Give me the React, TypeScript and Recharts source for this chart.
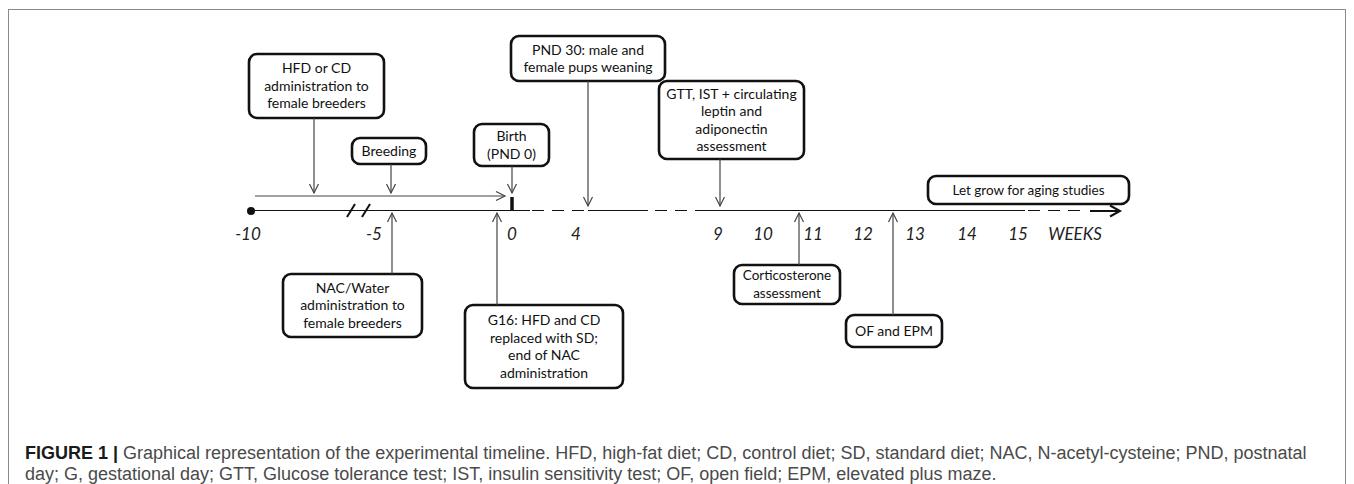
import React from 'react';
import { ComposedChart, Line, XAxis, YAxis, ReferenceArea, ReferenceLine, ReferenceDot } from 'recharts';

// tick labels of the broken time axis and where each one sits along it (axis units)
const weekLabels = ['-10', '-5', '0', '4', '9', '10', '11', '12', '13', '14', '15', 'WEEKS'];
const weekPos = [-5.28, -2.76, 0, 1.28, 4.12, 5.02, 6.02, 7.02, 8.06, 9.1, 10.12, 11.26];

// stretches of the timeline
const solidSpans = [[-5.22, 0.36], [1.52, 2.72], [3.86, 10.26]];
const dashedSpans = [[0.4, 1.44], [2.86, 3.86], [10.32, 11.44]];
const growSpan = [11.56, 12.16]; // open end after week 15
const dietSpan = [-5.14, -0.14]; // HFD / CD feeding up to G16
const timelineStart = -5.22;
const axisBreak = -3.06;
const birthAt = 0;

// events: box text and where their arrow meets the timeline
const eventLines = [
  ['HFD or CD', 'administration to', 'female breeders'],
  ['Breeding'],
  ['Birth', '(PND 0)'],
  ['PND 30: male and', 'female pups weaning'],
  ['GTT, IST + circulating', 'leptin and', 'adiponectin', 'assessment'],
  ['Let grow for aging studies'],
  ['NAC/Water', 'administration to', 'female breeders'],
  ['G16: HFD and CD', 'replaced with SD;', 'end of NAC', 'administration'],
  ['Corticosterone', 'assessment'],
  ['OF and EPM'],
];
const eventAt = [-3.96, -2.42, 0, 1.52, 4.16, null, -2.4, -0.3, 5.74, 7.62];

// layout of the boxes (x span, [top, bottom] height above the line, arrow tip height)
const boxX = [
  [-5.26, -2.56], [-3.2, -1.72], [-0.76, 0.74], [-0.02, 3.06], [2.94, 5.84],
  [8.32, 12.34], [-4.58, -1.8], [-0.94, 2.22], [4.44, 6.56], [6.68, 8.6],
];
const boxY = [
  [157, 93], [73, 47], [87, 45], [175, 130], [130, 52],
  [35, 7], [-63, -126], [-94, -177], [-54, -93], [-104, -136],
];
const tipY = [18, 18, 18, 5, 5, null, -2, -2, -2, -2];
const boxFont = [14, 14, 14, 14, 14, 13.5, 14, 14, 13.5, 14];

const ink = '#111';
const arrowInk = '#444';

const boxShape = (lines: string[], fontSize: number) => (p: any) => {
  const { x, y, width, height } = p;
  const lh = 17.5;
  const first = y + height / 2 - ((lines.length - 1) * lh) / 2;
  return (
    <g>
      <rect x={x} y={y} width={width} height={height} rx={8} ry={8} fill="#fff" stroke={ink} strokeWidth={2.6} />
      <text textAnchor="middle" fontFamily="Lato, 'Open Sans', sans-serif" fontSize={fontSize} fill="#111">
        {lines.map((l, i) => (
          <tspan key={i} x={x + width / 2} y={first + i * lh} dy="0.35em">{l}</tspan>
        ))}
      </text>
    </g>
  );
};

const arrowShape = (color: string, w: number, len: number, half: number) => (p: any) => {
  const { x1, y1, x2, y2 } = p;
  const a = Math.atan2(y2 - y1, x2 - x1);
  const ux = Math.cos(a);
  const uy = Math.sin(a);
  const bx = x2 - ux * len;
  const by = y2 - uy * len;
  const d = `M${bx - uy * half},${by + ux * half}L${x2},${y2}L${bx + uy * half},${by - ux * half}`;
  return (
    <g>
      <line x1={x1} y1={y1} x2={x2} y2={y2} stroke={color} strokeWidth={w} />
      <path d={d} fill="none" stroke={color} strokeWidth={w} />
    </g>
  );
};

const breakShape = (p: any) => {
  const { cx, cy } = p;
  return (
    <g stroke={ink} strokeWidth={2}>
      <line x1={cx - 12} y1={cy + 6} x2={cx - 4} y2={cy - 7} />
      <line x1={cx + 3} y1={cy + 6} x2={cx + 11} y2={cy - 7} />
    </g>
  );
};

const WeekTick = (props: any) => {
  const { x, y, payload } = props;
  const label = weekLabels[weekPos.indexOf(payload.value)];
  return (
    <text x={x} y={y + 29} textAnchor="middle" fontStyle="italic" fontSize={17} fontFamily="Lato, 'Open Sans', sans-serif" fill="#222">
      {label}
    </text>
  );
};

export default function App() {
  return (
    <div style={{ position: 'relative', top: 1, width: 1338, height: 490, boxSizing: 'border-box', border: '1px solid #8a8a8a', background: '#fff', overflow: 'hidden' }}>
      <style>{`html, body { overflow: hidden; }`}</style>
      <ComposedChart width={1336} height={420} margin={{ top: 1, right: 33, bottom: 0, left: 3 }}>
        <XAxis
          type="number"
          dataKey="x"
          domain={[-10, 16]}
          allowDataOverflow
          ticks={weekPos}
          interval={0}
          axisLine={false}
          tickLine={false}
          tickSize={0}
          tickMargin={0}
          height={219}
          tick={<WeekTick />}
        />
        <YAxis type="number" domain={[0, 200]} allowDataOverflow hide />

        {solidSpans.map((s, i) => (
          <Line key={'s' + i} data={[{ x: s[0], y: 0 }, { x: s[1], y: 0 }]} dataKey="y" stroke={ink} strokeWidth={2}
            dot={false} activeDot={false} isAnimationActive={false} />
        ))}
        {dashedSpans.map((s, i) => (
          <Line key={'d' + i} data={[{ x: s[0], y: 0 }, { x: s[1], y: 0 }]} dataKey="y" stroke={ink} strokeWidth={2}
            strokeDasharray="12 8" dot={false} activeDot={false} isAnimationActive={false} />
        ))}

        <ReferenceLine ifOverflow="visible" segment={[{ x: growSpan[0], y: 0 }, { x: growSpan[1], y: 0 }]}
          shape={arrowShape(ink, 2, 10, 5.5)} />
        <ReferenceLine ifOverflow="visible" segment={[{ x: dietSpan[0], y: 15 }, { x: dietSpan[1], y: 15 }]}
          shape={arrowShape(arrowInk, 1.2, 9, 4.5)} />
        <ReferenceLine ifOverflow="visible" segment={[{ x: birthAt, y: 0 }, { x: birthAt, y: 14 }]}
          stroke={ink} strokeWidth={3.5} />
        <ReferenceDot ifOverflow="visible" x={timelineStart} y={0} r={4} fill={ink} stroke="none" />
        <ReferenceDot ifOverflow="visible" x={axisBreak} y={0} shape={breakShape} />

        {eventAt.map((at, i) => {
          if (at == null || tipY[i] == null) return null;
          const start = tipY[i]! > 0 ? boxY[i][1] : boxY[i][0];
          return (
            <ReferenceLine key={'a' + i} ifOverflow="visible" segment={[{ x: at, y: start }, { x: at, y: tipY[i] }]}
              shape={arrowShape(arrowInk, 1.2, 9, 4.5)} />
          );
        })}

        {eventLines.map((lines, i) => (
          <ReferenceArea key={'b' + i} ifOverflow="visible" x1={boxX[i][0]} x2={boxX[i][1]} y1={boxY[i][1]} y2={boxY[i][0]}
            shape={boxShape(lines, boxFont[i])} />
        ))}
      </ComposedChart>
      <div style={{ padding: '13px 0 0 16px', fontFamily: '"Liberation Sans", Arial, sans-serif', fontSize: 18, lineHeight: '21px', color: '#4a4a4a', whiteSpace: 'nowrap' }}>
        <b style={{ color: '#1a1a1a' }}>FIGURE 1 |</b> Graphical representation of the experimental timeline. HFD, high-fat diet; CD, control diet; SD, standard diet; NAC, N-acetyl-cysteine; PND, postnatal
        <br />
        day; G, gestational day; GTT, Glucose tolerance test; IST, insulin sensitivity test; OF, open field; EPM, elevated plus maze.
      </div>
    </div>
  );
}
